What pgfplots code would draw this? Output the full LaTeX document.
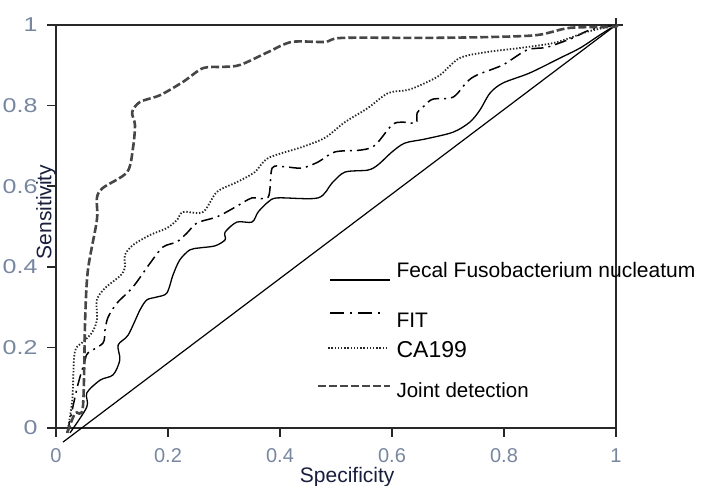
\documentclass[border=0pt]{standalone}
\usepackage{pgfplots}
\pgfplotsset{compat=1.18}
\usepackage{fontspec}
\setmainfont{Liberation Sans}
\newfontfamily\ystretch[FakeStretch=1.25]{Liberation Sans}
\definecolor{ticklab}{RGB}{120,135,160}
\definecolor{axiscol}{RGB}{40,40,40}
\definecolor{labtxt}{RGB}{25,30,60}
\definecolor{dashgray}{RGB}{70,70,70}
\definecolor{dotgray}{RGB}{40,40,40}

% legend samples
\pgfplotsset{
    fecalimg/.style={legend image code/.code={\path[draw=none,fill=none] (-12pt,-4pt) rectangle (60pt,14pt);
        \draw[##1] (0pt,-8pt) -- (60pt,-8pt);}},
    fitimg/.style={legend image code/.code={\path[draw=none,fill=none] (-12pt,-4pt) rectangle (60pt,14pt);
        \draw[##1, dash pattern=on 14pt off 6pt on 2pt off 6pt] (0pt,-1pt) -- (55pt,-1pt);}},
    caimg/.style={legend image code/.code={\path[draw=none,fill=none] (-12pt,-4pt) rectangle (60pt,14pt);
        \draw[##1] (-2pt,4pt) -- (56pt,4pt);}},
    jointimg/.style={legend image code/.code={\path[draw=none,fill=none] (-12pt,-4pt) rectangle (60pt,14pt);
        \draw[##1] (-12pt,6pt) -- (60pt,6pt);}},
}

\begin{document}
\begin{tikzpicture}
\begin{axis}[
    at={(56pt,57pt)}, anchor=south west,
    scale only axis, width=560pt, height=403pt,
    xmin=0, xmax=1, ymin=0, ymax=1,
    clip=false,
    axis line style={color=axiscol, line width=1.6pt},
    xtick={0,0.2,0.4,0.6,0.8,1},
    ytick={0,0.2,0.4,0.6,0.8,1},
    major tick length=0pt,
    /pgf/number format/assume math mode=true,
    xticklabel style={font=\fontsize{20}{24}\selectfont, text=ticklab, yshift=-17pt},
    yticklabel style={font=\fontsize{20}{24}\selectfont\ystretch, text=ticklab, xshift=-15pt},
    xlabel={Specificity}, ylabel={Sensitivity},
    xlabel style={at={(rel axis cs:0.52,-0.135)}, anchor=base,
        font=\fontsize{21}{24}\selectfont, text=labtxt},
    ylabel style={at={(rel axis cs:-0.018,0.536)}, anchor=center,
        font=\fontsize{21}{24}\selectfont, text=labtxt},
    legend style={at={(rel axis cs:0.466,0.4215)}, anchor=north west,
        draw=none, fill=none, inner sep=0pt, outer sep=0pt, row sep=17pt,
        nodes={inner sep=0pt, text height=14pt, text depth=4pt},
        font=\fontsize{21}{24}\selectfont},
    legend cell align=left,
    /tikz/every odd column/.append style={column sep=5pt},
]
% reference diagonal
\addplot[black, line width=1.2pt, forget plot] coordinates {(0.0125,-0.035) (1,1)};

% tick marks, drawn as short plotted segments
\pgfplotsinvokeforeach{0,0.2,0.4,0.6,0.8,1}{
    \addplot[color=axiscol, line width=1.5pt, forget plot] coordinates {(#1,0) (#1,-0.0223)};
    \addplot[color=axiscol, line width=1.5pt, forget plot] coordinates {(0,#1) (-0.016,#1)};
}
\addplot[color=axiscol, line width=1.5pt, forget plot] coordinates {(1,1) (1,1.017)};
\addplot[color=axiscol, line width=1.5pt, forget plot] coordinates {(1,1) (1.0125,1)};

% Fecal Fusobacterium nucleatum
\addplot[black, line width=1.3pt, smooth, tension=0.5, fecalimg]
coordinates {
(0.025,-0.012) (0.055,0.052) (0.055,0.087) (0.079,0.119) (0.102,0.132)
(0.114,0.169) (0.111,0.206) (0.129,0.231) (0.150,0.293) (0.1625,0.318)
(0.180,0.325) (0.198,0.335) (0.209,0.380) (0.221,0.417) (0.239,0.442)
(0.257,0.447) (0.284,0.452) (0.302,0.467) (0.302,0.486) (0.323,0.511)
(0.350,0.511) (0.361,0.536) (0.379,0.561) (0.396,0.571) (0.468,0.571)
(0.493,0.608) (0.516,0.635) (0.557,0.640) (0.575,0.653) (0.600,0.685)
(0.623,0.707) (0.659,0.717) (0.709,0.734) (0.739,0.759) (0.757,0.789)
(0.775,0.831) (0.798,0.856) (0.846,0.881) (0.900,0.918) (0.936,0.943)
(0.971,0.975) (1,1)
};
\addlegendentry{Fecal Fusobacterium nucleatum}

% FIT
\addplot[black, line width=1.5pt, smooth, tension=0.5,
    dash pattern=on 12pt off 5pt on 2pt off 5pt, fitimg]
coordinates {
(0.020,-0.012) (0.029,0.045) (0.039,0.107) (0.052,0.169) (0.057,0.186)
(0.084,0.211) (0.0875,0.243) (0.093,0.275) (0.109,0.310) (0.1375,0.350)
(0.168,0.409) (0.191,0.449) (0.216,0.462) (0.234,0.484) (0.252,0.509)
(0.2875,0.524) (0.320,0.548) (0.350,0.571) (0.379,0.573) (0.386,0.645)
(0.409,0.648) (0.439,0.645) (0.468,0.660) (0.498,0.685) (0.546,0.690)
(0.570,0.702) (0.600,0.752) (0.618,0.759) (0.643,0.757) (0.645,0.782)
(0.659,0.801) (0.673,0.816) (0.709,0.821) (0.734,0.859) (0.752,0.876)
(0.798,0.901) (0.841,0.938) (0.877,0.945) (0.923,0.968) (0.954,0.988)
(1,1)
};
\addlegendentry{\raisebox{-10pt}{\fontsize{21}{24}\selectfont FIT}}

% CA199
\addplot[dotgray, line width=1.8pt, smooth, tension=0.5,
    dash pattern=on 1.4pt off 1.8pt, caimg]
coordinates {
(0.020,-0.012) (0.029,0.069) (0.032,0.169) (0.036,0.199) (0.046,0.211)
(0.064,0.236) (0.073,0.268) (0.073,0.318) (0.0875,0.347) (0.114,0.377)
(0.123,0.397) (0.123,0.429) (0.1375,0.454) (0.168,0.479) (0.198,0.496)
(0.216,0.516) (0.227,0.536) (0.2625,0.536) (0.2875,0.586) (0.323,0.610)
(0.355,0.635) (0.379,0.670) (0.439,0.697) (0.480,0.720) (0.516,0.759)
(0.557,0.794) (0.593,0.831) (0.629,0.839) (0.659,0.856) (0.686,0.876)
(0.721,0.918) (0.770,0.933) (0.829,0.943) (0.8875,0.955) (0.918,0.968)
(0.948,0.983) (1,1)
};
\addlegendentry{\fontsize{23}{26}\selectfont CA199}

% Joint detection
\addplot[dashgray, line width=2.6pt, smooth, tension=0.5,
    dash pattern=on 8pt off 3pt, jointimg]
coordinates {
(0.020,-0.012) (0.034,0.037) (0.048,0.052) (0.052,0.268) (0.057,0.392)
(0.073,0.516) (0.073,0.571) (0.084,0.596) (0.127,0.635) (0.1375,0.695)
(0.141,0.752) (0.136,0.784) (0.150,0.809) (0.186,0.826) (0.227,0.859)
(0.2625,0.893) (0.298,0.896) (0.329,0.901) (0.379,0.933) (0.421,0.958)
(0.480,0.958) (0.511,0.968) (0.659,0.968) (0.770,0.970) (0.859,0.975)
(0.918,0.993) (0.9946,0.995) (1,1)
};
\addlegendentry{\fontsize{20.5}{24}\selectfont Joint detection}
\end{axis}
\pgfresetboundingbox
\useasboundingbox (0,0) rectangle (704pt,485pt);
\end{tikzpicture}
\end{document}
